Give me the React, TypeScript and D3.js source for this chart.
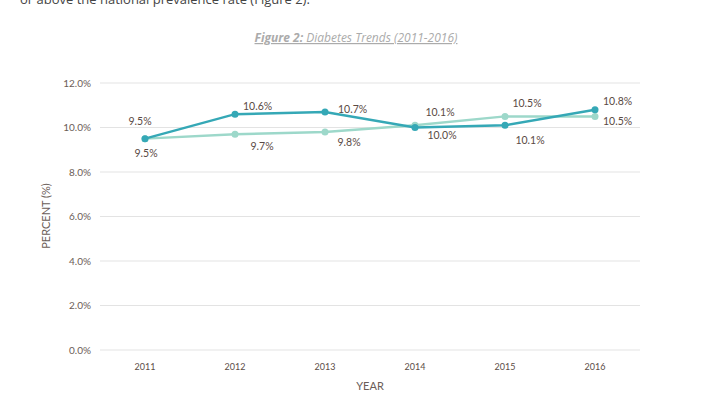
import * as d3 from 'd3'

const years = ['2011', '2012', '2013', '2014', '2015', '2016']
const seriesA = [9.5, 10.6, 10.7, 10.0, 10.1, 10.8]
const seriesB = [9.5, 9.7, 9.8, 10.1, 10.5, 10.5]
const yTicks = [0, 2, 4, 6, 8, 10, 12]

// label nudges (dx, dy, anchor) relative to each point
const labelPosA: [number, number, string][] = [
  [-5, -14, 'middle'], [8, -4, 'start'], [13, 1, 'start'],
  [27, 11, 'middle'], [25, 19, 'middle'], [8, -5, 'start']
]
const labelPosB: [number, number, string][] = [
  [1, 18, 'middle'], [27, 16, 'middle'], [24, 14, 'middle'],
  [25, -9, 'middle'], [22, -9, 'middle'], [8, 9, 'start']
]

const W = 713
const H = 400
const font = 'Lato, "Open Sans", sans-serif'

export default function App() {
  const x = d3.scalePoint<string>().domain(years).range([100, 640]).padding(0.5)
  const y = d3.scaleLinear().domain([0, 12]).range([350, 83])

  const line = d3.line<number>()
    .x((_, i) => x(years[i]) as number)
    .y(d => y(d))

  const series = [
    { values: seriesB, color: '#9dd8ca', pos: labelPosB },
    { values: seriesA, color: '#35a8b6', pos: labelPosA }
  ]

  return (
    <svg width={W} height={H} style={{ position: 'absolute', left: 0, top: 0, background: '#fff' }}>
      <text x={20} y={4} fontFamily='"Open Sans", sans-serif' fontSize={13} fill="#444">
        or above the national prevalence rate (Figure 2).
      </text>
      <text x={356} y={42} textAnchor="middle" fontFamily='"Open Sans", sans-serif' fontSize={12}
        fontStyle="italic" fill="#ababab" textDecoration="underline">
        <tspan fontWeight="bold">Figure 2:</tspan> Diabetes Trends (2011-2016)
      </text>

      {yTicks.map(t => (
        <g key={t}>
          <line x1={100} x2={640} y1={y(t)} y2={y(t)} stroke="#e3e3e3" strokeWidth={1} />
          <text x={91} y={y(t) + 3.5} textAnchor="end" fontFamily={font} fontSize={10} fill="#6b5d57">
            {t.toFixed(1)}%
          </text>
        </g>
      ))}

      {years.map(yr => (
        <text key={yr} x={x(yr)} y={370} textAnchor="middle" fontFamily={font} fontSize={9} fill="#5c4d47">
          {yr}
        </text>
      ))}

      <text x={370} y={390} textAnchor="middle" fontFamily={font} fontSize={11} fill="#6b5d57">YEAR</text>
      <text transform={`translate(50,216) rotate(-90)`} textAnchor="middle" fontFamily={font} fontSize={11} fill="#6b5d57">
        PERCENT (%)
      </text>

      {series.map((s, si) => (
        <g key={si}>
          <path d={line(s.values) ?? ''} fill="none" stroke={s.color} strokeWidth={2.5} />
          {s.values.map((v, i) => (
            <circle key={i} cx={x(years[i])} cy={y(v)} r={3.5} fill={s.color} />
          ))}
        </g>
      ))}

      {series.map((s, si) => (
        <g key={'l' + si}>
          {s.values.map((v, i) => {
            const [dx, dy, anchor] = s.pos[i]
            return (
              <text key={i} x={(x(years[i]) as number) + dx} y={y(v) + dy} textAnchor={anchor}
                fontFamily={font} fontSize={10.5} fill="#5a4a44">
                {v.toFixed(1)}%
              </text>
            )
          })}
        </g>
      ))}
    </svg>
  )
}
